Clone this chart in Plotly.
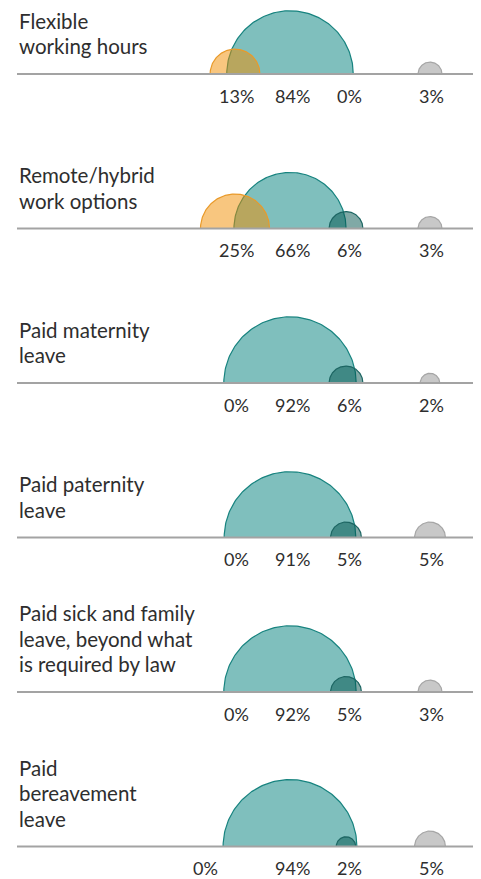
import numpy as np
import plotly.graph_objects as go

# ---- data ----
row_labels = [
    ["Flexible", "working hours"],
    ["Remote/hybrid", "work options"],
    ["Paid maternity", "leave"],
    ["Paid paternity", "leave"],
    ["Paid sick and family", "leave, beyond what", "is required by law"],
    ["Paid", "bereavement", "leave"],
]
series_a = [13, 25, 0, 0, 0, 0]     # orange
series_b = [84, 66, 92, 91, 92, 94]  # teal
series_c = [0, 6, 6, 5, 5, 2]        # dark teal
series_d = [3, 3, 2, 5, 3, 5]        # gray

# ---- layout / style ----
W, H = 481, 879
PAGE_MARGIN = 8              # default body margin of the html page
FONT = "Lato"
TEXT_COLOR = "#2e2e2e"
K = 6.9                      # px radius per sqrt(percent)
centers = [235, 290, 346, 430]
label_x = [236, 292, 349, 431]
label_nudge = {(5, 0): -31}
base0, row_step = 74, 154.5
line_x0, line_x1 = 17, 474
styles = [
    dict(fill="rgba(242,141,0,0.5)", line="#E99A2A"),
    dict(fill="rgba(0,127,124,0.5)", line="#17837F"),
    dict(fill="rgba(1,83,78,0.5)", line="#1D6663"),
    dict(fill="rgba(145,145,145,0.5)", line="#A6A6A6"),
]
series = [series_a, series_b, series_c, series_d]
draw_order = [1, 0, 2, 3]    # teal underneath, orange on top of it

fig = go.Figure()
t = np.linspace(0, np.pi, 121)
annotations = []
for i, lines in enumerate(row_labels):
    base = base0 + row_step * i
    for j in draw_order:
        v = series[j][i]
        if v > 0:
            r = K * np.sqrt(v)
            fig.add_trace(go.Scatter(
                x=centers[j] + r * np.cos(t), y=base - r * np.sin(t),
                mode="lines", fill="toself", fillcolor=styles[j]["fill"],
                line=dict(color=styles[j]["line"], width=1.2),
                hoverinfo="skip", showlegend=False))
    for j, s in enumerate(series):
        annotations.append(dict(
            x=label_x[j] + label_nudge.get((i, j), 0), y=base + 21.5,
            text=f"{s[i]}%", showarrow=False, xanchor="center", yanchor="middle",
            height=16,
            font=dict(family=FONT, size=18, color=TEXT_COLOR)))
    fig.add_trace(go.Scatter(
        x=[line_x0, line_x1], y=[base, base], mode="lines",
        line=dict(color="#a3a3a3", width=2), hoverinfo="skip", showlegend=False))
    n = len(lines)
    for k, txt in enumerate(lines):
        annotations.append(dict(
            x=line_x0, y=base - 28 - 25.5 * (n - 1 - k), text=txt,
            showarrow=False, xanchor="left", yanchor="middle",
            font=dict(family=FONT, size=20.5, color=TEXT_COLOR)))

fig.update_layout(
    width=W - PAGE_MARGIN, height=H - PAGE_MARGIN,
    margin=dict(l=0, r=0, t=0, b=0),
    paper_bgcolor="white", plot_bgcolor="white",
    xaxis=dict(range=[PAGE_MARGIN, W], visible=False, fixedrange=True),
    yaxis=dict(range=[H, PAGE_MARGIN], visible=False, fixedrange=True),
    annotations=annotations, showlegend=False)

fig.write_html("out.html")
